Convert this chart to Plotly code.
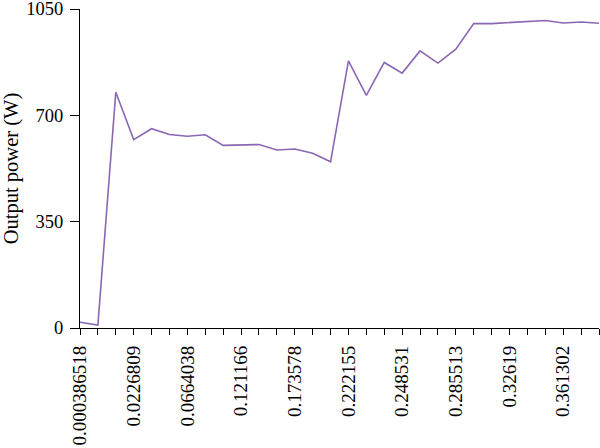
import plotly.graph_objects as go

# Tick labels shown every third sample (30 samples total)
tick_labels = ["0.000386518", "0.0226809", "0.0664038", "0.121166", "0.173578",
               "0.222155", "0.248531", "0.285513", "0.32619", "0.361302"]

power = [19, 10, 776, 620, 656, 637, 631, 636, 601, 603,
         604, 586, 589, 575, 547, 879, 766, 874, 839, 912,
         872, 918, 1002, 1002, 1006, 1010, 1012, 1004, 1007, 1003]

y_ticks = [0, 350, 700, 1050]

idx = list(range(len(power)))
ticktext = [tick_labels[i // 3] if i % 3 == 0 else "" for i in idx]

fig = go.Figure()
fig.add_trace(go.Scatter(x=idx, y=power, mode="lines",
                         line=dict(color="#8a67b3", width=1.6)))

fam = "Liberation Serif, Times New Roman, serif"
xfont = dict(family=fam, size=19, color="black")
yfont = dict(family=fam, size=18.5, color="black")
titlefont = dict(family=fam, size=20.5, color="black")

fig.update_layout(
    width=600, height=448,
    margin=dict(l=80, r=1, t=9, b=120),
    plot_bgcolor="white", paper_bgcolor="white",
    showlegend=False,
    font=xfont,
)
fig.update_xaxes(range=[0, 29], tickmode="array", tickvals=idx, ticktext=ticktext,
                 tickangle=-90, ticks="outside", ticklen=6, tickwidth=1.2,
                 tickcolor="black", showline=True, linecolor="black", linewidth=1.2,
                 showgrid=False, zeroline=False, tickfont=xfont, automargin=False,
                 ticklabeloverflow="allow", ticklabelstandoff=3)
fig.update_yaxes(range=[0, 1050], tickmode="array", tickvals=y_ticks,
                 ticks="outside", ticklen=9, tickwidth=1.2, tickcolor="black",
                 showline=True, linecolor="black", linewidth=1.2,
                 showgrid=False, zeroline=False, tickfont=yfont, automargin=False,
                 ticklabeloverflow="allow", ticklabelstandoff=3,
                 title=dict(text="Output power (W)", font=titlefont))

fig.write_html("out.html", config={"displayModeBar": False},
               post_script="document.body.style.margin='0';document.body.style.overflow='hidden';")
